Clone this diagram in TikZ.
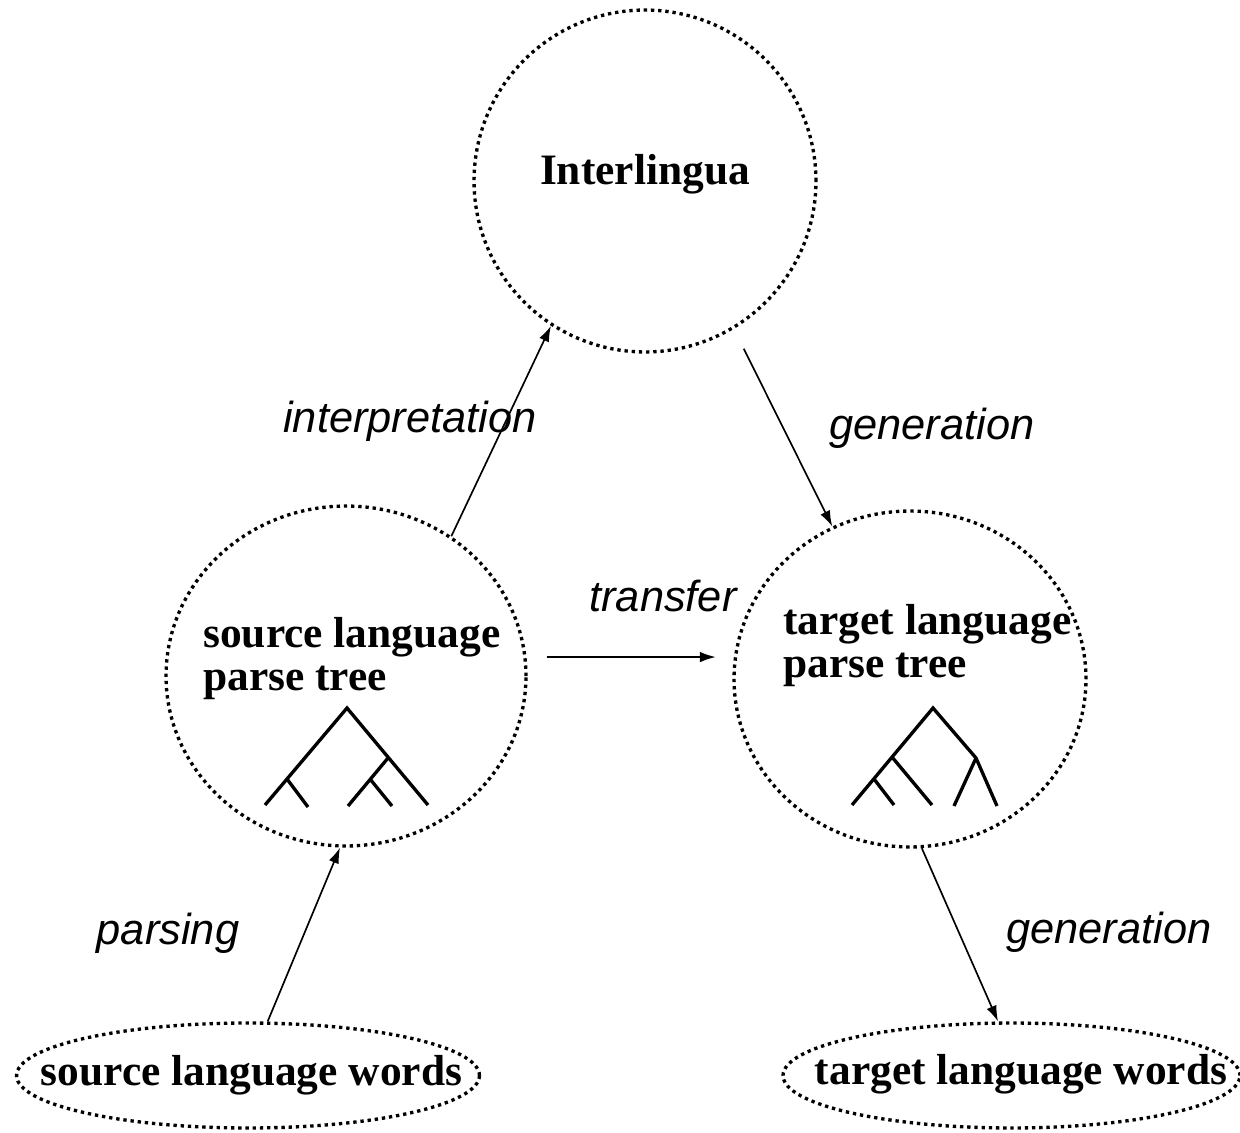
\documentclass[tikz,border=0pt]{standalone}
\usepackage{fontspec}
\setmainfont{Liberation Serif}
\newfontfamily\labelsans{Liberation Sans}
\usetikzlibrary{shapes.geometric,arrows.meta}
\begin{document}
\begin{tikzpicture}[x=0.02cm,y=-0.02cm,
 bubble/.style={draw, line width=1.9pt, dash pattern=on 1.9pt off 2.2pt, inner sep=0pt},
 ell/.style={bubble, ellipse},
 nodetext/.style={font=\fontsize{24.7}{24.4}\selectfont\bfseries, inner sep=0pt, align=left},
 lab/.style={font=\fontsize{24.7}{29}\selectfont\labelsans\itshape, inner sep=0pt},
 arr/.style={line width=0.95pt, -{Latex[length=9pt,width=6pt]}},
 treeline/.style={line width=1.9pt}]
\useasboundingbox (0,0) rectangle (1240,1132);
% bubbles
\node[bubble, circle, minimum size=6.84cm] (il) at (645,181) {};
\node[ell, minimum width=7.2cm, minimum height=6.8cm] (sp) at (346,676) {};
\node[ell, minimum width=7.04cm, minimum height=6.72cm] (tp) at (910,679) {};
\node[ell, minimum width=9.26cm, minimum height=2.1cm] (sw) at (248,1075.5) {};
\node[ell, minimum width=9.14cm, minimum height=2.1cm] (tw) at (1011.5,1075.5) {};
% texts
\node[nodetext] (iltext) at (645,174) {Interlingua};
\node[nodetext, anchor=base west] (sptext) at (203,690) {source language\\parse tree};
\node[nodetext, anchor=base west] (tptext) at (783,677) {target language\\parse tree};
\node[nodetext, anchor=base] (swtext) at (251.5,1085) {source language words};
\node[nodetext, anchor=base] (twtext) at (1021,1084) {target language words};
% connectors
\draw[arr] (sw.70.2) -- (sp.-92);
\draw[arr] (sp.53.1) -- (il.-123.4);
\draw[arr, shorten <=0.44cm] (il.-59.4) -- (tp.117);
\draw[arr, shorten <=0.4cm, shorten >=0.37cm] (sp.6.06) -- (sp.6.06 -| tp.172.8);
\draw[arr] (tp.-86.6) -- (tw.104.6);
% labels
\node[lab] (l1) at (410,421) {interpretation};
\node[lab] (l2) at (932,428) {generation};
\node[lab] (l3) at (663,596) {transfer};
\node[lab] (l4) at (168,933) {parsing};
\node[lab] (l5) at (1109,932) {generation};
% source tree
\draw[treeline] (265,805) -- (347,708) -- (428,805);
\draw[treeline] (287,779) -- (308,807);
\draw[treeline] (388,758) -- (348,806);
\draw[treeline] (370,779) -- (392,806);
% target tree
\draw[treeline] (852,805) -- (933,708) -- (976,758) -- (997,806);
\draw[treeline] (976,758) -- (954,806);
\draw[treeline] (892,757) -- (932,805);
\draw[treeline] (874,779) -- (894,805);
\end{tikzpicture}
\end{document}
